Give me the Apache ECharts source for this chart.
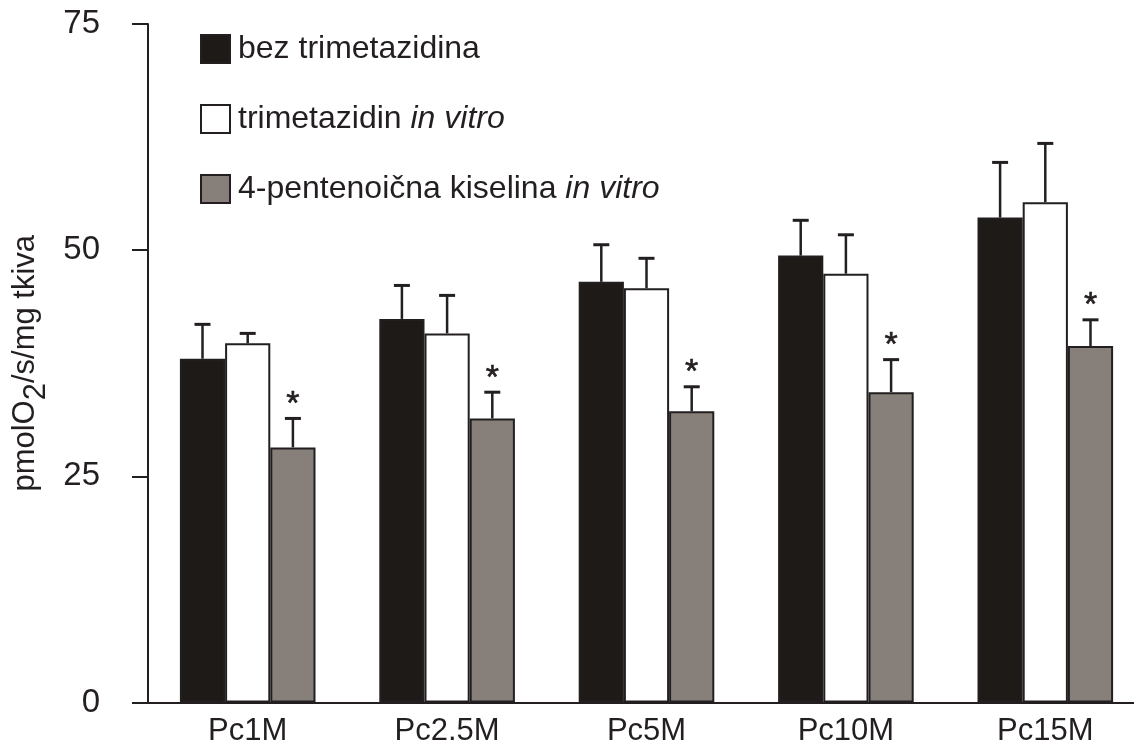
<!DOCTYPE html>
<html>
<head>
<meta charset="utf-8">
<script src="https://cdn.jsdelivr.net/npm/echarts@6/dist/echarts.min.js"></script>
<style>
html,body{margin:0;padding:0;background:#fff;}
#chart{width:1134px;height:751px;}
</style>
</head>
<body>
<div id="chart"></div>
<script>
const categories = ['Pc1M', 'Pc2.5M', 'Pc5M', 'Pc10M', 'Pc15M'];
const seriesNames = ['bez trimetazidina', 'trimetazidin in vitro', '4-pentenoična kiselina in vitro'];
const bezTrimetazidina = [38.0, 42.4, 46.5, 49.4, 53.6];
const bezTrimetazidinaSD = [3.8, 3.7, 4.1, 3.9, 6.1];
const trimetazidinInVitro = [39.7, 40.8, 45.8, 47.4, 55.3];
const trimetazidinInVitroSD = [1.1, 4.2, 3.3, 4.3, 6.5];
const pentenoicnaInVitro = [28.2, 31.4, 32.2, 34.3, 39.4];
const pentenoicnaInVitroSD = [3.2, 2.9, 2.7, 3.6, 2.9];
const pentenoicnaSignificance = ['*', '*', '*', '*', '*'];
const yTicks = [0, 25, 50, 75];

const INK = '#231f20';
const colors = ['#1d1a17', '#ffffff', '#877f79'];
const GAP = 0.32;
const means = [bezTrimetazidina, trimetazidinInVitro, pentenoicnaInVitro];
const sds = [bezTrimetazidinaSD, trimetazidinInVitroSD, pentenoicnaInVitroSD];
const marks = [null, null, pentenoicnaSignificance];
const FONT = '"Liberation Sans", Arial, sans-serif';

const chart = echarts.init(document.getElementById('chart'), null, {renderer: 'canvas'});

const barSeries = seriesNames.map((name, k) => ({
  name: name,
  type: 'bar',
  data: means[k],
  barGap: '0%',
  barCategoryGap: (GAP * 100) + '%',
  itemStyle: {color: colors[k], borderColor: INK, borderWidth: 2},
  emphasis: {disabled: true},
  z: 2
}));

const errSeries = seriesNames.map((name, k) => ({
  type: 'custom',
  name: name + ' SD',
  data: means[k].map((m, i) => [i, m, m + sds[k][i]]),
  encode: {x: 0, y: [1, 2]},
  z: 3,
  silent: true,
  renderItem: function (params, api) {
    const i = api.value(0);
    const band = api.size([1, 0])[0];
    const bw = band * (1 - GAP) / 3;
    const base = api.coord([i, api.value(1)]);
    const top = api.coord([i, api.value(2)]);
    const x = base[0] + (k - 1) * bw;
    const cap = 8;
    const children = [
      {type: 'line', shape: {x1: x, y1: base[1], x2: x, y2: top[1]}, style: {stroke: INK, lineWidth: 2.5}},
      {type: 'line', shape: {x1: x - cap, y1: top[1], x2: x + cap, y2: top[1]}, style: {stroke: INK, lineWidth: 3}}
    ];
    if (marks[k] && marks[k][i]) {
      children.push({type: 'text', x: x, y: top[1] - 14, style: {text: marks[k][i], fill: INK, font: '34px ' + FONT, align: 'center', verticalAlign: 'middle', stroke: INK, lineWidth: 0.6}});
    }
    return {type: 'group', children: children};
  }
}));

const legendRich = {
  n: {fontFamily: FONT, fontSize: 32, color: INK, padding: [0, 0, 0, 3]},
  i: {fontFamily: FONT, fontSize: 32, fontStyle: 'italic', color: INK}
};

chart.setOption({
  animation: false,
  backgroundColor: '#fff',
  grid: {left: 148, width: 997, top: 24, bottom: 48.5, containLabel: false, outerBoundsMode: 'none'},
  legend: {
    orient: 'vertical',
    left: 195,
    top: 28,
    itemWidth: 29,
    itemHeight: 28,
    itemGap: 38,
    icon: 'rect',
    selectedMode: false,
    data: seriesNames,
    formatter: function (name) {
      const m = name.match(/^(.*?)(in vitro)$/);
      if (m) return '{n|' + m[1] + '}{i|' + m[2] + '}';
      return '{n|' + name + '}';
    },
    textStyle: {rich: legendRich}
  },
  xAxis: {
    type: 'category',
    data: categories,
    axisLine: {lineStyle: {color: INK, width: 2}},
    axisTick: {show: false},
    axisLabel: {color: INK, fontSize: 31, fontFamily: FONT, margin: 13}
  },
  yAxis: {
    type: 'value',
    min: 0, max: 75, interval: 25,
    axisLine: {show: true, lineStyle: {color: INK, width: 2}},
    axisTick: {show: true, inside: false, length: 16, lineStyle: {color: INK, width: 2}},
    splitLine: {show: false},
    axisLabel: {color: INK, fontSize: 33, fontFamily: FONT, margin: 48,
      formatter: v => yTicks.includes(v) ? String(v) : ''},
    name: '{a|pmolO}{s|2}{a|/s/mg tkiva}',
    nameLocation: 'middle',
    nameRotate: 90,
    nameGap: 96,
    nameTextStyle: {
      rich: {
        a: {fontSize: 31, fontFamily: FONT, color: INK, lineHeight: 42, verticalAlign: 'top'},
        s: {fontSize: 31, fontFamily: FONT, color: INK, lineHeight: 42, verticalAlign: 'bottom', padding: [14, 0, 0, 0]}
      }
    }
  },
  series: barSeries.concat(errSeries)
});
</script>
</body>
</html>
